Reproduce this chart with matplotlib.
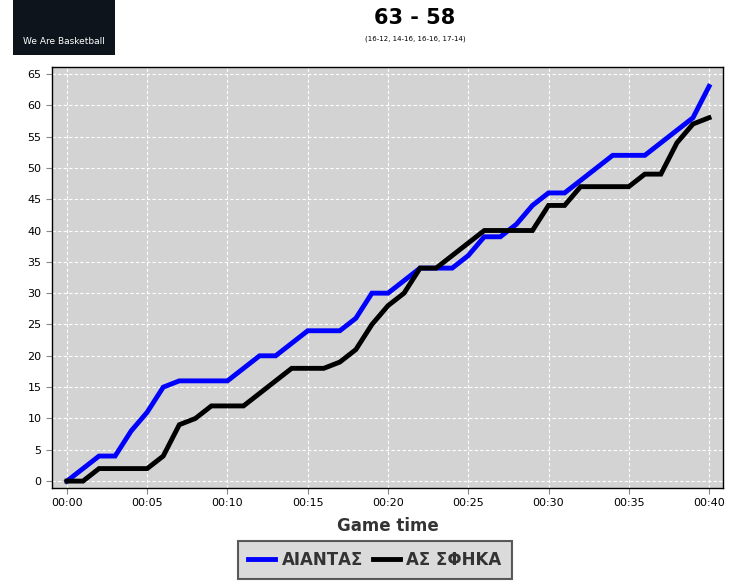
import matplotlib
matplotlib.use("Agg")
import matplotlib.pyplot as plt
from matplotlib.patches import Rectangle

minutes = list(range(41))
team_a = [0,2,4,4,8,11,15,16,16,16,16,18,20,20,22,24,24,24,26,30,30,32,34,34,34,36,39,39,41,44,46,46,48,50,52,52,52,54,56,58,63]
team_b = [0,0,2,2,2,2,4,9,10,12,12,12,14,16,18,18,18,19,21,25,28,30,34,34,36,38,40,40,40,40,44,44,47,47,47,47,49,49,54,57,58]
name_a = "ΑΙΑΝΤΑΣ"
name_b = "ΑΣ ΣΦΗΚΑ"
xticks = [0,5,10,15,20,25,30,35,40]
xlabels = ["00:00","00:05","00:10","00:15","00:20","00:25","00:30","00:35","00:40"]

W, H = 737, 588
fig = plt.figure(figsize=(W/100, H/100), dpi=100)
ax = fig.add_axes([52/W, 1-488/H, (723-52)/W, (488-67)/H])
ax.set_facecolor("#d3d3d3")
ax.plot(minutes, team_a, color="#0000ff", lw=3.5, label=name_a, solid_joinstyle="miter")
ax.plot(minutes, team_b, color="black", lw=3.5, label=name_b, solid_joinstyle="miter")
ax.set_xlim(-0.93, 40.87)
ax.set_ylim(-1.1, 66.1)
ax.set_yticks(range(0, 66, 5))
ax.set_xticks(xticks)
ax.set_xticklabels(xlabels)
ax.tick_params(labelsize=8, color="#888888", length=4)
ax.grid(True, color="white", ls=(0,(3,2)), lw=0.8)
ax.set_axisbelow(True)
for s in ax.spines.values():
    s.set_color("black"); s.set_linewidth(1)
ax.set_xlabel("Game time", fontsize=12, fontweight="bold", color="#333333", labelpad=6)

leg = fig.legend(loc="center", bbox_to_anchor=(375/W, 1-560/H), ncol=2, fontsize=12,
                 frameon=True, fancybox=False, edgecolor="#333333", facecolor="#d3d3d3",
                 handlelength=1.6, columnspacing=0.6, handletextpad=0.4, borderpad=0.6)
leg.get_frame().set_linewidth(1.5)
for t in leg.get_texts():
    t.set_fontweight("bold"); t.set_color("#333333")

fig.text(415/W, 1-18/H, "63 - 58", ha="center", va="center", fontsize=15, fontweight="bold")
fig.text(415/W, 1-39/H, "(16-12, 14-16, 16-16, 17-14)", ha="center", va="center", fontsize=5)

fig.patches.append(Rectangle((13/W, 1-55/H), 102/W, 55/H, transform=fig.transFigure,
                             facecolor="#0d141c", edgecolor="none"))
fig.text(64/W, 1-41/H, "We Are Basketball", ha="center", va="center", fontsize=6.5, color="white")

fig.savefig("out.png", dpi=100)
